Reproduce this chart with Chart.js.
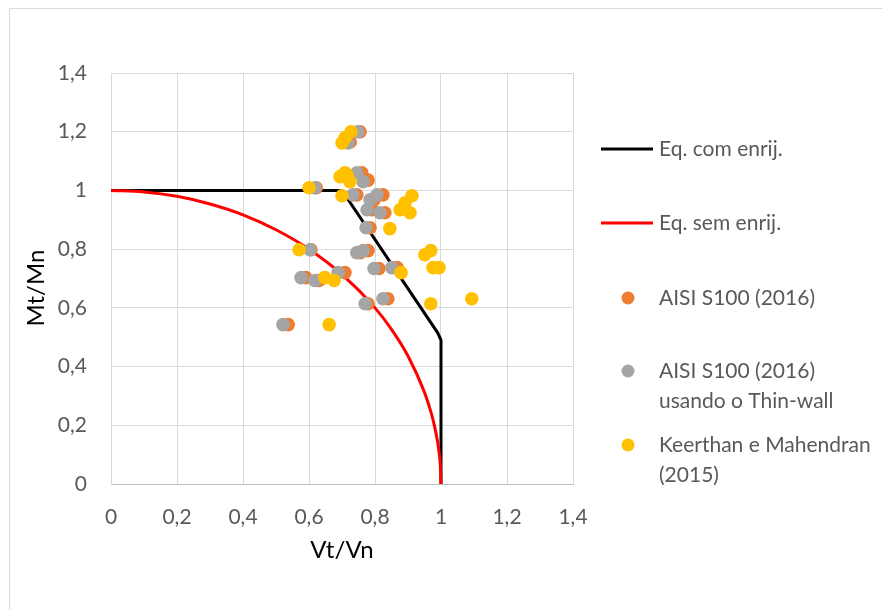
<!DOCTYPE html>
<html>
<head>
<meta charset="utf-8">
<script src="https://cdn.jsdelivr.net/npm/chart.js@4.4.0/dist/chart.umd.min.js"></script>
<style>
  html, body { margin: 0; padding: 0; background: #fff; }
  #wrap { position: relative; width: 882px; height: 610px; }
</style>
</head>
<body>
<div id="wrap"><canvas id="c" width="882" height="610"></canvas></div>
<script>
// Axis tick labels (decimal comma)
const xTickLabels = ['0', '0,2', '0,4', '0,6', '0,8', '1', '1,2', '1,4'];
const yTickLabels = ['0', '0,2', '0,4', '0,6', '0,8', '1', '1,2', '1,4'];

// Interaction curve with stiffeners
const comX = [0, 0.7, 0.99, 1.0, 1.0];
const comY = [1, 1.0, 0.515, 0.49, 0];

// Interaction curve without stiffeners
const semX = [0, 0.1, 0.2, 0.3, 0.4, 0.5, 0.6, 0.7, 0.8, 0.85, 0.9, 0.95, 0.97, 0.98, 0.99, 0.995, 0.998, 1.0];
const semY = [1, 0.995, 0.98, 0.954, 0.917, 0.866, 0.8, 0.714, 0.6, 0.527, 0.436, 0.312, 0.243, 0.199, 0.141, 0.1, 0.063, 0];

// AISI S100 (2016)
const aisiX = [0.755, 0.725, 0.622, 0.760, 0.779, 0.745, 0.797, 0.824, 0.790, 0.830, 0.785, 0.606, 0.755, 0.779, 0.812, 0.867, 0.590, 0.630, 0.709, 0.779, 0.839, 0.537];
const aisiY = [1.200, 1.165, 1.009, 1.060, 1.035, 0.985, 0.968, 0.985, 0.934, 0.924, 0.873, 0.798, 0.788, 0.795, 0.734, 0.737, 0.703, 0.693, 0.720, 0.614, 0.631, 0.543];

// AISI S100 (2016) using Thin-wall
const thinX = [0.748, 0.718, 0.618, 0.745, 0.764, 0.733, 0.785, 0.806, 0.776, 0.815, 0.773, 0.603, 0.745, 0.764, 0.797, 0.851, 0.576, 0.618, 0.688, 0.770, 0.824, 0.521];
const thinY = [1.200, 1.162, 1.009, 1.060, 1.030, 0.985, 0.968, 0.985, 0.934, 0.924, 0.873, 0.798, 0.788, 0.795, 0.734, 0.737, 0.703, 0.693, 0.720, 0.614, 0.631, 0.543];

// Keerthan e Mahendran (2015)
const keerX = [0.727, 0.709, 0.700, 0.600, 0.709, 0.694, 0.724, 0.700, 0.715, 0.912, 0.891, 0.876, 0.906, 0.845, 0.570, 0.951, 0.969, 0.976, 0.994, 0.648, 0.676, 0.879, 0.969, 1.093, 0.661];
const keerY = [1.200, 1.179, 1.162, 1.009, 1.060, 1.047, 1.030, 0.982, 1.053, 0.982, 0.958, 0.934, 0.924, 0.870, 0.798, 0.781, 0.795, 0.737, 0.737, 0.703, 0.693, 0.720, 0.614, 0.631, 0.543];

const toPts = (xs, ys) => xs.map((x, i) => ({ x: x, y: ys[i] }));

const FONT = 'Lato, "Liberation Sans", sans-serif';
const TICK_COLOR = '#595959';
const GRID = '#d9d9d9';

// Vertical legend drawn to the right of the plot, plus axis titles and outer frame
const decorPlugin = {
  id: 'decor',
  beforeDraw(chart) {
    const ctx = chart.ctx;
    ctx.save();
    ctx.strokeStyle = '#d9d9d9';
    ctx.lineWidth = 1;
    ctx.beginPath();
    ctx.moveTo(9.5, 620);
    ctx.lineTo(9.5, 8.5);
    ctx.lineTo(900, 8.5);
    ctx.stroke();
    ctx.restore();
  },
  afterDraw(chart) {
    const ctx = chart.ctx;
    ctx.save();
    // axis titles
    ctx.fillStyle = '#000';
    ctx.font = '24px ' + FONT;
    ctx.textAlign = 'center';
    ctx.textBaseline = 'middle';
    ctx.fillText('Vt/Vn', 342, 550);
    ctx.translate(36, 288);
    ctx.rotate(-Math.PI / 2);
    ctx.fillText('Mt/Mn', 0, 0);
    ctx.restore();

    ctx.save();
    ctx.font = '21px ' + FONT;
    ctx.fillStyle = TICK_COLOR;
    ctx.textAlign = 'left';
    ctx.textBaseline = 'middle';
    const ds = chart.data.datasets;
    const rows = [
      { d: ds[0], y: 149, kind: 'line' },
      { d: ds[1], y: 223, kind: 'line' },
      { d: ds[2], y: 298, kind: 'point' },
      { d: ds[3], y: 371, kind: 'point' },
      { d: ds[4], y: 445, kind: 'point' }
    ];
    rows.forEach(r => {
      if (r.kind === 'line') {
        ctx.strokeStyle = r.d.borderColor;
        ctx.lineWidth = 3;
        ctx.beginPath();
        ctx.moveTo(601, r.y);
        ctx.lineTo(653, r.y);
        ctx.stroke();
      } else {
        ctx.fillStyle = r.d.backgroundColor;
        ctx.beginPath();
        ctx.arc(628, r.y, 6.5, 0, Math.PI * 2);
        ctx.fill();
      }
      ctx.fillStyle = TICK_COLOR;
      const lines = Array.isArray(r.d.label) ? r.d.label : [r.d.label];
      lines.forEach((t, i) => ctx.fillText(t, 659, r.y + i * 30));
    });
    ctx.restore();
  }
};

new Chart(document.getElementById('c'), {
  type: 'scatter',
  data: {
    datasets: [
      {
        label: 'Eq. com enrij.',
        data: toPts(comX, comY),
        showLine: true,
        borderColor: '#000000',
        backgroundColor: '#000000',
        borderWidth: 3,
        pointRadius: 0,
        tension: 0,
        order: 5
      },
      {
        label: 'Eq. sem enrij.',
        data: toPts(semX, semY),
        showLine: true,
        borderColor: '#ff0000',
        backgroundColor: '#ff0000',
        borderWidth: 3,
        pointRadius: 0,
        cubicInterpolationMode: 'monotone',
        order: 4
      },
      {
        label: 'AISI S100 (2016)',
        data: toPts(aisiX, aisiY),
        backgroundColor: '#ed7d31',
        borderColor: '#ed7d31',
        borderWidth: 0,
        pointRadius: 6.8,
        order: 3
      },
      {
        label: ['AISI S100 (2016)', 'usando o Thin-wall'],
        data: toPts(thinX, thinY),
        backgroundColor: '#a5a5a5',
        borderColor: '#a5a5a5',
        borderWidth: 0,
        pointRadius: 6.8,
        order: 2
      },
      {
        label: ['Keerthan e Mahendran', '(2015)'],
        data: toPts(keerX, keerY),
        backgroundColor: '#ffc000',
        borderColor: '#ffc000',
        borderWidth: 0,
        pointRadius: 6.8,
        order: 1
      }
    ]
  },
  options: {
    responsive: false,
    animation: false,
    devicePixelRatio: 1,
    layout: { padding: { left: 0, top: 73, right: 309, bottom: 0 } },
    plugins: { legend: { display: false }, tooltip: { enabled: false } },
    scales: {
      x: {
        type: 'linear',
        min: 0, max: 1.4,
        ticks: {
          stepSize: 0.2,
          padding: 21,
          color: TICK_COLOR,
          font: { family: FONT, size: 21 },
          callback: (v, i) => xTickLabels[i]
        },
        grid: { color: GRID, lineWidth: 1, drawTicks: false },
        border: { color: '#bfbfbf', width: 1 },
        afterFit: s => { s.height = 126; }
      },
      y: {
        type: 'linear',
        min: 0, max: 1.4,
        ticks: {
          stepSize: 0.2,
          padding: 24,
          color: TICK_COLOR,
          font: { family: FONT, size: 21 },
          callback: (v, i) => yTickLabels[i]
        },
        grid: { color: GRID, lineWidth: 1, drawTicks: false },
        border: { color: GRID, width: 1 },
        afterFit: s => { s.width = 111; }
      }
    }
  },
  plugins: [decorPlugin]
});
</script>
</body>
</html>
